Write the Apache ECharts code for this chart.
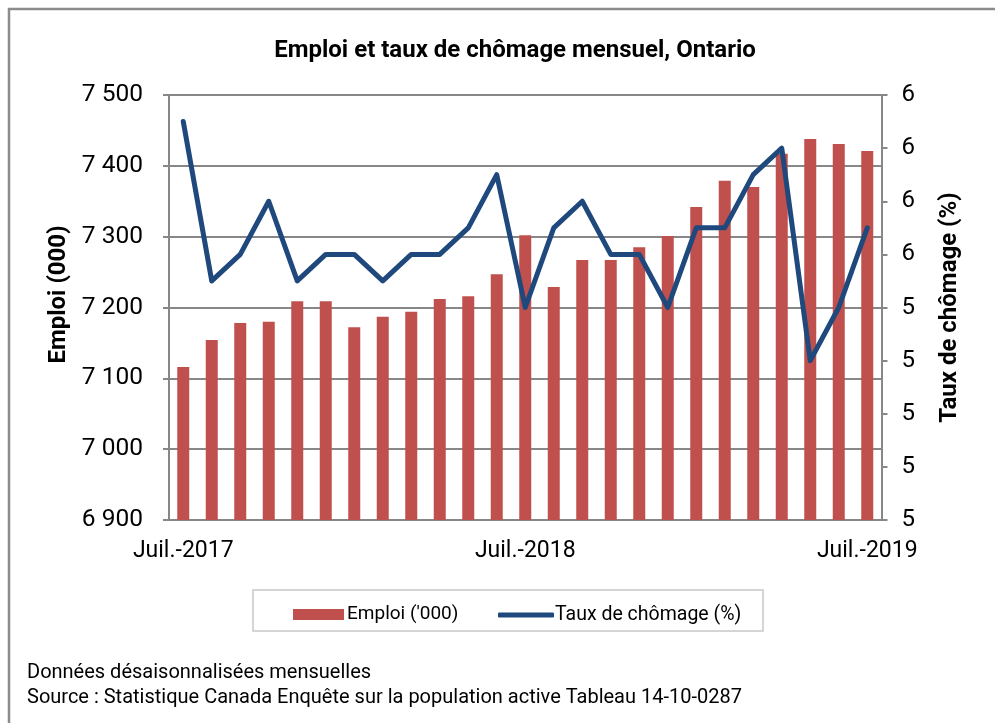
<!DOCTYPE html>
<html>
<head>
<meta charset="utf-8">
<title>Emploi et taux de chômage mensuel, Ontario</title>
<script src="https://cdn.jsdelivr.net/npm/echarts@6/dist/echarts.min.js"></script>
<style>
  html, body { margin: 0; padding: 0; background: #fff; }
  #chart { width: 995px; height: 723px; }
</style>
</head>
<body>
<div id="chart"></div>
<script>
// mois, juillet 2017 à juillet 2019
const months = [
  'Juil.-2017', 'Août-2017', 'Sept.-2017', 'Oct.-2017', 'Nov.-2017', 'Déc.-2017',
  'Janv.-2018', 'Févr.-2018', 'Mars-2018', 'Avr.-2018', 'Mai-2018', 'Juin-2018',
  'Juil.-2018', 'Août-2018', 'Sept.-2018', 'Oct.-2018', 'Nov.-2018', 'Déc.-2018',
  'Janv.-2019', 'Févr.-2019', 'Mars-2019', 'Avr.-2019', 'Mai-2019', 'Juin-2019',
  'Juil.-2019'
];

// Emploi ('000)
const emploi = [
  7116, 7154, 7178, 7180, 7209, 7209, 7172, 7187, 7194, 7212, 7216, 7247,
  7302, 7229, 7267, 7267, 7285, 7301, 7342, 7379, 7370, 7417, 7438, 7431,
  7421
];

// Taux de chômage (%)
const chomage = [
  6.1, 5.5, 5.6, 5.8, 5.5, 5.6, 5.6, 5.5, 5.6, 5.6, 5.7, 5.9,
  5.4, 5.7, 5.8, 5.6, 5.6, 5.4, 5.7, 5.7, 5.9, 6.0, 5.2, 5.4,
  5.7
];

const FONT = "'Roboto', sans-serif";
const AXIS_GREY = '#878787';

const myChart = echarts.init(document.getElementById('chart'));

function spaceThousands(v) {
  return String(v).replace(/\B(?=(\d{3})+(?!\d))/g, ' ');
}

const option = {
  backgroundColor: '#fff',
  animation: false,
  textStyle: { fontFamily: FONT },
  title: {
    text: 'Emploi et taux de chômage mensuel, Ontario',
    left: 510,
    textAlign: 'center',
    top: 34,
    textStyle: { fontFamily: FONT, fontSize: 24, fontWeight: 'bold', color: '#000' }
  },
  grid: { left: 169, right: 113.5, top: 95, bottom: 203 },
  legend: [
    {
      data: ['Emploi (\'000)'],
      left: 288, top: 600,
      itemWidth: 51, itemHeight: 11, itemGap: 0,
      icon: 'rect',
      textStyle: { fontFamily: FONT, fontSize: 19, color: '#000', padding: [0, 0, 0, -2] }
    },
    {
      data: ['Taux de chômage (%)'],
      left: 493, top: 600,
      itemWidth: 56, itemHeight: 5, itemGap: 0,
      icon: 'roundRect',
      textStyle: { fontFamily: FONT, fontSize: 19.5, color: '#000', padding: [0, 0, 0, -4] }
    }
  ],
  xAxis: {
    type: 'category',
    data: months,
    boundaryGap: true,
    axisLine: { lineStyle: { color: AXIS_GREY, width: 2 } },
    axisTick: { interval: 0, length: 6, lineStyle: { color: AXIS_GREY, width: 2 } },
    axisLabel: {
      interval: 11,
      margin: 20,
      fontSize: 23,
      color: '#000',
      fontFamily: FONT
    },
    splitLine: { show: false }
  },
  yAxis: [
    {
      type: 'value',
      min: 6900, max: 7500, interval: 100,
      name: 'Emploi (000)',
      nameLocation: 'middle',
      nameRotate: 90,
      nameGap: 92,
      nameTextStyle: { fontFamily: FONT, fontSize: 24, fontWeight: 'bold', color: '#000', padding: [0, 0, 0, 26] },
      axisLine: { show: true, lineStyle: { color: AXIS_GREY, width: 2 } },
      axisTick: { show: true, length: 6, lineStyle: { color: AXIS_GREY, width: 2 } },
      axisLabel: { margin: 26, fontSize: 24.5, color: '#000', fontFamily: FONT, formatter: spaceThousands },
      splitLine: { show: true, lineStyle: { color: AXIS_GREY, width: 2 } }
    },
    {
      type: 'value',
      min: 4.6, max: 6.2, interval: 0.2,
      name: 'Taux de chômage (%)',
      nameLocation: 'middle',
      nameRotate: 90,
      nameGap: 56,
      nameTextStyle: { fontFamily: FONT, fontSize: 24, fontWeight: 'bold', color: '#000' },
      axisLine: { show: true, lineStyle: { color: AXIS_GREY, width: 2 } },
      axisTick: { show: true, length: 6, lineStyle: { color: AXIS_GREY, width: 2 } },
      axisLabel: { margin: 20, fontSize: 24, color: '#000', fontFamily: FONT, formatter: v => Math.round(v) },
      splitLine: { show: false }
    }
  ],
  series: [
    {
      name: 'Emploi (\'000)',
      type: 'bar',
      data: emploi,
      yAxisIndex: 0,
      barWidth: 12,
      itemStyle: { color: '#C0504D' }
    },
    {
      name: 'Taux de chômage (%)',
      type: 'line',
      data: chomage,
      yAxisIndex: 1,
      symbol: 'none',
      lineStyle: { color: '#1F497D', width: 5, join: 'round', cap: 'round' },
      itemStyle: { color: '#1F497D' }
    }
  ],
  graphic: [
    {
      type: 'rect',
      shape: { x: 9, y: 9, width: 1000, height: 730 },
      style: { fill: 'none', stroke: '#8c8c8c', lineWidth: 2.5 },
      silent: true
    },
    {
      type: 'rect',
      shape: { x: 253, y: 590, width: 510, height: 41 },
      style: { fill: 'none', stroke: '#c8c8c8', lineWidth: 1.5 },
      silent: true
    },
    {
      type: 'text',
      left: 27, top: 663,
      style: { text: 'Données désaisonnalisées mensuelles', font: '20px ' + FONT, fill: '#000' }
    },
    {
      type: 'text',
      left: 27, top: 688,
      style: { text: 'Source : Statistique Canada Enquête sur la population active Tableau 14-10-0287', font: '20px ' + FONT, fill: '#000' }
    }
  ]
};

myChart.setOption(option);
</script>
</body>
</html>
